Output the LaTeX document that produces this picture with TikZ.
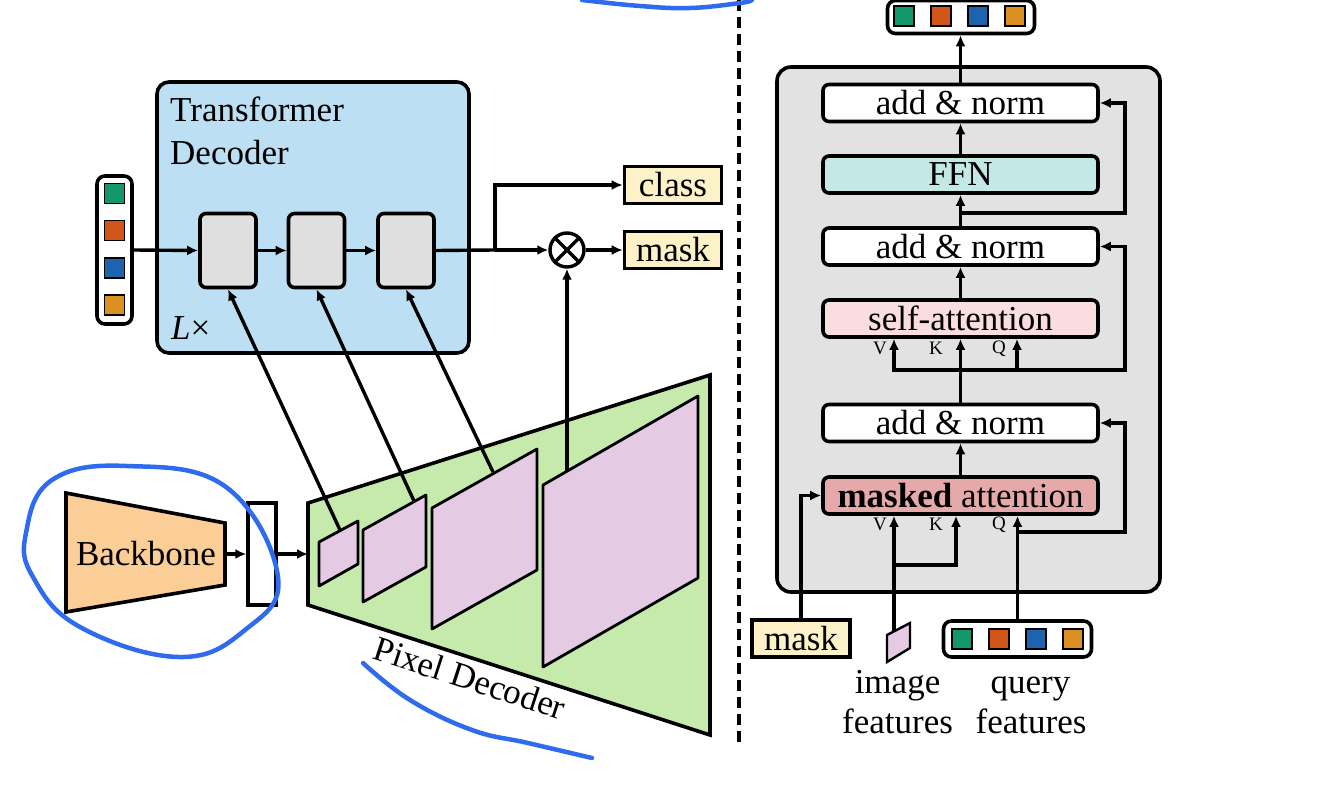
\documentclass[tikz,border=0pt]{standalone}
\usepackage{fontspec}
\setmainfont{Liberation Serif}
\usetikzlibrary{arrows.meta}

\definecolor{tdblue}{HTML}{BDDFF4}
\definecolor{blkgray}{HTML}{DFDFDF}
\definecolor{outyel}{HTML}{FDF1C7}
\definecolor{pdgreen}{HTML}{C6EAAC}
\definecolor{fmpink}{HTML}{E5CAE3}
\definecolor{bbpeach}{HTML}{FBCD97}
\definecolor{contgray}{HTML}{E2E2E2}
\definecolor{ffnteal}{HTML}{C3E8E5}
\definecolor{sapink}{HTML}{FADDE0}
\definecolor{marose}{HTML}{E6A9A9}
\definecolor{qgreen}{HTML}{14976A}
\definecolor{qorange}{HTML}{D2561A}
\definecolor{qblue}{HTML}{1D63AE}
\definecolor{qyellow}{HTML}{DB9021}
\definecolor{penblue}{HTML}{2E6BEF}

\tikzset{
  box/.style={draw, line width=3.6pt, rounded corners=6pt, inner sep=0pt},
  layer/.style={box, minimum width=275pt, minimum height=37pt},
  outbox/.style={draw, line width=3.6pt, fill=outyel, inner sep=0pt, minimum width=97pt, minimum height=37pt},
  sq/.style={draw, line width=1.6pt, minimum size=20pt, inner sep=0pt},
  wire/.style={line width=3.4pt},
  arr/.style={wire, -{Latex[length=11pt,width=10pt]}},
  fmap/.style={line width=2.8pt, fill=fmpink, line join=round},
  vkq/.style={font=\fontsize{19}{19}\selectfont},
  scribble/.style={draw=penblue, line width=4.5pt, line cap=round, line join=round},
}

\begin{document}
\begin{tikzpicture}[x=1pt, y=-1pt, inner sep=0pt, font=\fontsize{35}{43}\selectfont]
\useasboundingbox (0,0) rectangle (1320,795);

%%% left: transformer decoder
\node[box, rounded corners=12pt, fill=tdblue, minimum width=312pt, minimum height=271pt] (tdec) at (313,217.5) {};
\node[anchor=north west, align=left] (tdlbl) at (170,97) {Transformer\\Decoder};
\node[anchor=base west] (lx) at (171,339) {\textit{L}×};

\node[box, fill=white, rounded corners=8pt, minimum width=35pt, minimum height=148pt] (qin) at (114.5,250) {}; %queries
\foreach \c [count=\i] in {qgreen,qorange,qblue,qyellow}
  \node[sq, fill=\c] (qi\i) at (114.5,156+37.3*\i) {};

\node[box, fill=blkgray, minimum width=56pt, minimum height=74pt] (b1) at (228,250.5) {};
\node[box, fill=blkgray, minimum width=56pt, minimum height=74pt] (b2) at (316.5,250.5) {};
\node[box, fill=blkgray, minimum width=56pt, minimum height=74pt] (b3) at (406,250.5) {};

\draw[arr] (qin.east) -- (b1.west);
\draw[arr] (b1.east) -- (b2.west);
\draw[arr] (b2.east) -- (b3.west);

\node[outbox] (cls) at (673,185) {class};
\node[outbox] (msk) at (673,250) {mask};
\node[draw, circle, wire, minimum size=34pt] (mul) at (567,250) {};
\draw[wire] (mul.north west) -- (mul.south east) (mul.north east) -- (mul.south west);

\coordinate (split) at (495,250);
\draw[wire] (b3.east) -- (split);
\draw[arr] (split) -- (mul.west);
\draw[arr] (split) |- (cls.west);
\draw[arr] (mul.east) -- (msk.west);

%%% backbone
\draw[line width=3.6pt, fill=bbpeach] (66,493) -- (225,523) -- (225,585) -- (66,612) -- cycle; %backbone
\node (bb) at (146,554) {Backbone};
\coordinate (bbout) at (225,554);
\node[draw, line width=3.4pt, fill=white, minimum width=28pt, minimum height=102pt] (neck) at (262,554) {};
\coordinate (pdin) at (308,554);
\draw[arr] (bbout) -- (neck.west);
\draw[arr] (neck.east) -- (pdin);

%%% pixel decoder
\draw[line width=3.6pt, fill=pdgreen] (308,503) -- (710,375) -- (710,735) -- (308,605) -- cycle; %pixel decoder
\draw[fmap] (319,542) -- (358,521) -- (358,564) -- (319,586) -- cycle; %1/32
\draw[fmap] (363,530) -- (426,495) -- (426,567) -- (363,602) -- cycle; %1/16
\draw[fmap] (432,508) -- (537,449) -- (537,570) -- (432,629) -- cycle; %1/8
\draw[fmap] (543,485) -- (698,396) -- (698,578) -- (543,667) -- cycle; %1/4
\node[rotate=-18] (pdlbl) at (470,678) {Pixel Decoder};

\coordinate (f1) at (340,530);
\coordinate (f2) at (414,501);
\coordinate (f3) at (493,472);
\coordinate (f4) at (567,471);
\draw[arr] (f1) -- (b1.south);
\draw[arr] (f2) -- (b2.south);
\draw[arr] (f3) -- (b3.south);
\draw[arr] (f4) -- (mul.south);

%%% separator
\draw[line width=3.2pt, dash pattern=on 11pt off 6pt] (739,0) -- (739,742);

%%% right: one decoder layer
\node[box, rounded corners=14pt, fill=contgray, minimum width=383pt, minimum height=525pt] (cont) at (968.5,329.5) {};

\node[box, rounded corners=8pt, fill=white, minimum width=147pt, minimum height=33pt] (qout) at (961,17) {};
\foreach \c [count=\i] in {qgreen,qorange,qblue,qyellow}
  \node[sq, fill=\c] (qo\i) at (867+37*\i,16) {};

\node[layer, fill=white] (an1) at (960.5,103) {add \& norm};
\node[layer, fill=ffnteal] (ffn) at (960.5,174.5) {FFN};
\node[layer, fill=white] (an2) at (960.5,246.5) {add \& norm};
\node[layer, fill=sapink] (sa) at (960.5,318.5) {self-attention};
\node[layer, fill=white] (an3) at (960.5,423) {add \& norm};
\node[layer, fill=marose] (ma) at (960.5,495.5) {\textbf{masked} attention};

\draw[arr] (an1.north) -- (an1.north |- qout.south);
\draw[arr] (ffn.north) -- (an1.south);
\draw[arr] (an2.north) -- (ffn.south);
\coordinate (r1) at (960.5,213);
\draw[arr] (r1) -- (1125,213) |- (an1.east);
\draw[arr] (sa.north) -- (an2.south);

\coordinate (r2) at (960.5,370);
\draw[wire] (an3.north) -- (r2);
\draw[arr] (r2) -- (sa.south);
\draw[arr] (r2) -| ([xshift=-66.5pt]sa.south);
\draw[arr] (r2) -| ([xshift=56.5pt]sa.south);
\draw[arr] (r2) -- (1125,370) |- (an2.east);
\node[vkq] (sv) at (880,348) {V};
\node[vkq] (sk) at (936,348) {K};
\node[vkq] (sq) at (999,349) {Q};

\draw[arr] (ma.north) -- (an3.south);

\node[outbox, minimum width=98pt] (mkin) at (801,638.5) {mask};
\draw[arr] (mkin.north) |- (ma.west);

\draw[line width=2.4pt, fill=fmpink] (887,635) -- (910,623) -- (910,648) -- (887,662) -- cycle; %image features
\coordinate (imf) at (894,631);
\draw[arr] (imf) -- (imf |- ma.south);
\coordinate (r3) at (894,565);
\draw[arr] (r3) -| ([xshift=-4.5pt]ma.south);

\node[box, rounded corners=8pt, fill=white, minimum width=148pt, minimum height=36pt] (qft) at (1017.5,639) {};
\foreach \c [count=\i] in {qgreen,qorange,qblue,qyellow}
  \node[sq, fill=\c] (qf\i) at (925+37*\i,639) {};
\draw[arr] (qft.north) -- (qft.north |- ma.south);
\coordinate (r4) at (1017.5,532);
\draw[arr] (r4) -- (1125,532) |- (an3.east);
\node[vkq] (mv) at (880,524) {V};
\node[vkq] (mk) at (936,524) {K};
\node[vkq] (mq) at (999,525) {Q};

\node[anchor=base] (iml1) at (897.5,693) {image};
\node[anchor=base] (iml2) at (897.5,733) {features};
\node[anchor=base] (qfl1) at (1030.5,693) {query};
\node[anchor=base] (qfl2) at (1031,733) {features};

%%% pen marks
\draw[scribble] plot[smooth cycle, tension=0.7] coordinates {(127,466) (226,487) (278,577) (245,630) (179,657) (80,627) (33,577) (26,533) (52,480)};
\draw[scribble] plot[smooth, tension=0.7] coordinates {(363,663) (410,700) (472,730) (528,743) (592,758)};
\draw[scribble] plot[smooth, tension=0.7] coordinates {(582,0) (640,6) (690,8) (740,3) (752,0)};
\end{tikzpicture}
\end{document}
